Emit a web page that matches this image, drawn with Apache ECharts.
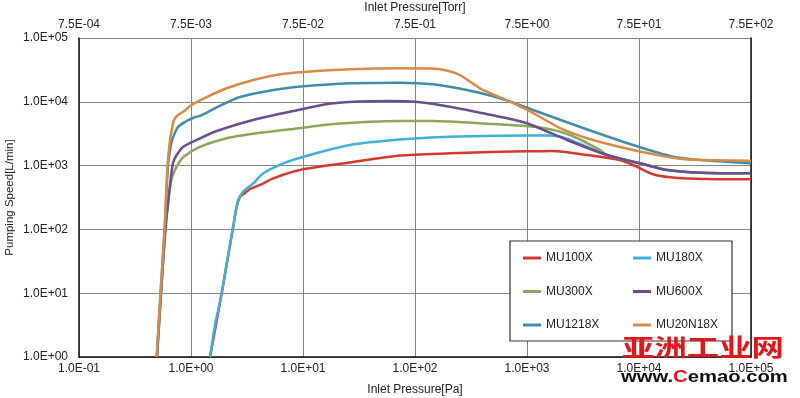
<!DOCTYPE html>
<html>
<head>
<meta charset="utf-8">
<script src="https://cdn.jsdelivr.net/npm/echarts@6/dist/echarts.min.js"></script>
<style>
  html, body { margin: 0; padding: 0; background: #fff; }
  #main { width: 800px; height: 398px; }
</style>
</head>
<body>
<div id="main"></div>
<script>
// tick labels
const paLabels = ['1.0E-01', '1.0E+00', '1.0E+01', '1.0E+02', '1.0E+03', '1.0E+04', '1.0E+05'];
const torrLabels = ['7.5E-04', '7.5E-03', '7.5E-02', '7.5E-01', '7.5E+00', '7.5E+01', '7.5E+02'];
const speedLabels = ['1.0E+00', '1.0E+01', '1.0E+02', '1.0E+03', '1.0E+04', '1.0E+05'];

// [inlet pressure Pa, pumping speed L/min]
const mu100x = [[1.48, 1], [1.88, 10], [2.36, 101], [2.58, 241], [2.74, 322], [3.03, 372], [3.36, 430],
  [4.13, 497], [5.43, 632], [9.4, 853], [26.3, 1119], [73.4, 1440], [205, 1560], [574, 1652],
  [1000, 1676], [1706, 1700], [3436, 1466], [6761, 1224], [9600, 955], [13340, 731], [18900, 657],
  [40000, 615], [100000, 610]];
const mu180x = [[1.48, 1], [1.64, 3.18], [1.88, 10], [2.1, 32], [2.36, 101], [2.52, 201], [2.64, 289],
  [2.93, 390], [3.6, 528], [4.42, 757], [6.67, 1086], [10.1, 1379], [26.3, 2104], [73.4, 2565],
  [205, 2838], [574, 2943], [1604, 2965], [2275, 2650], [5176, 1466], [10200, 1086], [17800, 853],
  [35100, 774], [100000, 757]];
const mu300x = [[0.497, 1], [0.54, 10], [0.591, 101], [0.643, 415], [0.676, 640], [0.713, 823],
  [0.75, 986], [0.853, 1364], [1.2, 1959], [2.08, 2680], [3.86, 3208], [7.66, 3703], [18.7, 4487],
  [73.4, 4998], [145, 4998], [405, 4571], [1306, 3955], [2421, 3020], [4487, 1757], [5176, 1466],
  [10200, 1086], [17800, 853], [35100, 774], [100000, 757]];
const mu600x = [[0.497, 1], [0.54, 10], [0.591, 101], [0.643, 415], [0.67, 794], [0.695, 1138],
  [0.745, 1466], [0.853, 1979], [1.12, 2520], [1.7, 3483], [3.86, 5375], [7.66, 7000], [18.7, 9470],
  [59.8, 10290], [100, 10000], [205, 8375], [405, 6601], [574, 5836], [1000, 4603], [2275, 2520],
  [5176, 1466], [10200, 1086], [17800, 853], [35100, 774], [100000, 757]];
const mu1218x = [[0.494, 1], [0.535, 10], [0.582, 101], [0.624, 1021], [0.662, 2104], [0.695, 2838],
  [0.766, 4027], [0.883, 4822], [1.04, 5568], [1.25, 6206], [1.7, 8200], [2.74, 11880], [5.43, 15300],
  [10.1, 17500], [26.3, 19500], [73.4, 19900], [145, 18800], [290, 15300], [574, 11350], [1132, 7435],
  [3162, 3882], [8836, 2104], [20100, 1379], [35100, 1224], [100000, 1086]];
const mu20n18x = [[0.494, 1], [0.535, 10], [0.58, 101], [0.617, 1021], [0.65, 2520], [0.673, 3610],
  [0.695, 4822], [0.745, 5984], [0.853, 7000], [1.01, 8913], [1.38, 11880], [2.08, 16290], [3.6, 21970],
  [6.24, 26980], [10.1, 29310], [26.3, 32300], [73.4, 33500], [136, 33250], [192, 30970], [252, 26300],
  [380, 16290], [705, 10040], [1132, 6673], [1972, 3882], [3884, 2520], [8836, 1757], [17800, 1379],
  [28500, 1247], [100000, 1194]];

const names = ['MU100X', 'MU180X', 'MU300X', 'MU600X', 'MU1218X', 'MU20N18X'];
const colors = ['#d23a2e', '#41afd9', '#8aa85a', '#6c4d8f', '#3f8da8', '#d88a46'];
const curves = [mu100x, mu180x, mu300x, mu600x, mu1218x, mu20n18x];

const font = 'Liberation Sans, Arial, sans-serif';
const gridColor = '#858585';
const textColor = '#222';

function decade(v) {
  return Math.round(Math.log10(v));
}

const chart = echarts.init(document.getElementById('main'));
const option = {
  animation: false,
  textStyle: { fontFamily: font },
  grid: { left: 79, right: 49, top: 38, bottom: 41, outerBoundsMode: 'none', containLabel: false },
  xAxis: [
    {
      type: 'log', logBase: 10, min: 0.1, max: 100000,
      name: 'Inlet Pressure[Pa]', nameLocation: 'middle', nameGap: 27,
      nameTextStyle: { fontSize: 12, color: textColor, fontFamily: font },
      axisLine: { onZero: false, lineStyle: { color: '#111', width: 1.5 } },
      axisTick: { show: false },
      axisLabel: { fontSize: 12, color: textColor, margin: 6, fontFamily: font,
        formatter: v => paLabels[decade(v) + 1] },
      splitLine: { show: true, lineStyle: { color: gridColor, width: 1 } }
    },
    {
      type: 'value', min: -1, max: 5, interval: 1, position: 'top',
      name: 'Inlet Pressure[Torr]', nameLocation: 'middle', nameGap: 23,
      nameTextStyle: { fontSize: 12, color: textColor, fontFamily: font },
      axisLine: { show: false, onZero: false },
      axisTick: { show: false },
      axisLabel: { fontSize: 12, color: textColor, margin: 7, fontFamily: font,
        formatter: v => torrLabels[Math.round(v) + 1] },
      splitLine: { show: false }
    }
  ],
  yAxis: [
    {
      type: 'log', logBase: 10, min: 1, max: 100000, position: 'left',
      name: 'Pumping Speed[L/min]', nameLocation: 'middle', nameGap: 63, nameMoveOverlap: false,
      nameTextStyle: { fontSize: 11.5, color: textColor, fontFamily: font },
      axisLine: { show: true, onZero: false, lineStyle: { color: '#111', width: 1.5 } },
      axisTick: { show: false },
      axisLabel: { fontSize: 12, color: textColor, margin: 11, fontFamily: font,
        formatter: v => speedLabels[decade(v)] },
      splitLine: { show: true, lineStyle: { color: gridColor, width: 1 } }
    },
    {
      type: 'log', logBase: 10, min: 1, max: 100000, position: 'right',
      axisLine: { show: true, onZero: false, lineStyle: { color: '#111', width: 1.5 } },
      axisTick: { show: false },
      axisLabel: { show: false },
      splitLine: { show: false }
    }
  ],
  legend: [
    {
      data: ['MU100X', 'MU300X', 'MU1218X'],
      orient: 'vertical', left: 523, top: 252, itemGap: 21.5, padding: 0,
      icon: 'rect', itemWidth: 18, itemHeight: 3, selectedMode: false, z: 10,
      textStyle: { fontSize: 12, color: textColor, fontFamily: font }
    },
    {
      data: ['MU180X', 'MU600X', 'MU20N18X'],
      orient: 'vertical', left: 633, top: 252, itemGap: 21.5, padding: 0,
      icon: 'rect', itemWidth: 18, itemHeight: 3, selectedMode: false, z: 10,
      textStyle: { fontSize: 12, color: textColor, fontFamily: font }
    }
  ],
  graphic: [
    {
      type: 'rect', z: 8,
      shape: { x: 510, y: 241, width: 222, height: 100 },
      style: { fill: '#fff', stroke: '#333', lineWidth: 1.2 }
    },
    {
      type: 'text', z: 20, left: 622, top: 335, scaleX: 1.35,
      style: { text: '亚洲工业网', fill: '#e3161c', font: 'bold 24px "Noto Sans CJK SC"' }
    },
    {
      type: 'text', z: 20, left: 621, top: 369, scaleX: 1.19,
      style: {
        text: '{k|www.}{r|C}{k|emao.com}',
        rich: {
          k: { fill: '#111', font: 'bold 17px "Liberation Sans", Arial' },
          r: { fill: '#e3161c', font: 'bold 17px "Liberation Sans", Arial' }
        }
      }
    }
  ],
  series: curves.map((d, i) => ({
    name: names[i],
    type: 'line',
    xAxisIndex: 0,
    yAxisIndex: 0,
    data: d,
    symbol: 'none',
    smooth: 0.25,
    lineStyle: { color: colors[i], width: 2.5 },
    itemStyle: { color: colors[i] },
    z: 3 + i
  }))
};
chart.setOption(option);
</script>
</body>
</html>
